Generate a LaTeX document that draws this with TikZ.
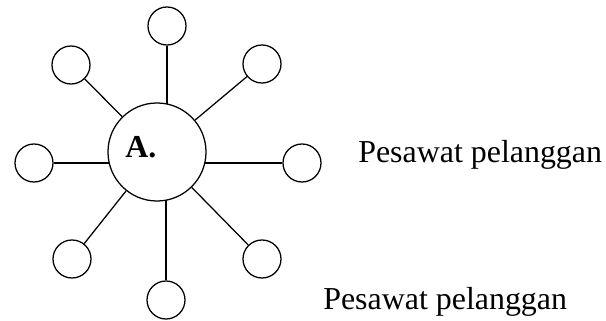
\documentclass[tikz,border=0pt]{standalone}
\usepackage{fontspec}
\setmainfont{Liberation Serif}
\usetikzlibrary{backgrounds}

\begin{document}
\begin{tikzpicture}[x=0.025cm, y=-0.025cm,
    hub/.style={draw, circle, line width=0.9pt, fill=white, minimum size=2.45cm, inner sep=0pt},
    station/.style={draw, circle, line width=0.9pt, fill=white, minimum size=0.95cm, inner sep=0pt},
    wire/.style={line width=0.9pt},
    label/.style={font=\fontsize{22.7}{27}\selectfont, inner sep=0pt, anchor=base west}]
\useasboundingbox (0,0) rectangle (606,321);
% exchange in the middle
\node[hub] (a) at (157,152) {};
\node[font=\fontsize{22.7}{27}\selectfont\bfseries, inner sep=0pt, anchor=base west] (alab) at (125,158) {A.};
% subscriber sets round it
\node[station] (n)  at (167,26)  {};
\node[station] (nw) at (71,65)   {};
\node[station] (ne) at (262,64)  {};
\node[station] (w)  at (34,163)  {};
\node[station] (e)  at (302,163) {};
\node[station] (sw) at (72,259)  {};
\node[station] (s)  at (166,300) {};
\node[station] (se) at (262,259) {};
\begin{scope}[on background layer]
  \draw[wire] (n) -- (n |- a);
  \draw[wire] (s) -- (s |- a);
  \draw[wire] (w) -- (w -| a);
  \draw[wire] (e) -- (e -| a);
  \draw[wire] (nw) -- (a);
  \draw[wire] (ne) -- (a);
  \draw[wire] (sw) -- (a);
  \draw[wire] (se) -- (a);
\end{scope}
\node[label] (p1) at (358,163) {Pesawat pelanggan};
\node[label] (p2) at (323,309) {Pesawat pelanggan};
\end{tikzpicture}
\end{document}
